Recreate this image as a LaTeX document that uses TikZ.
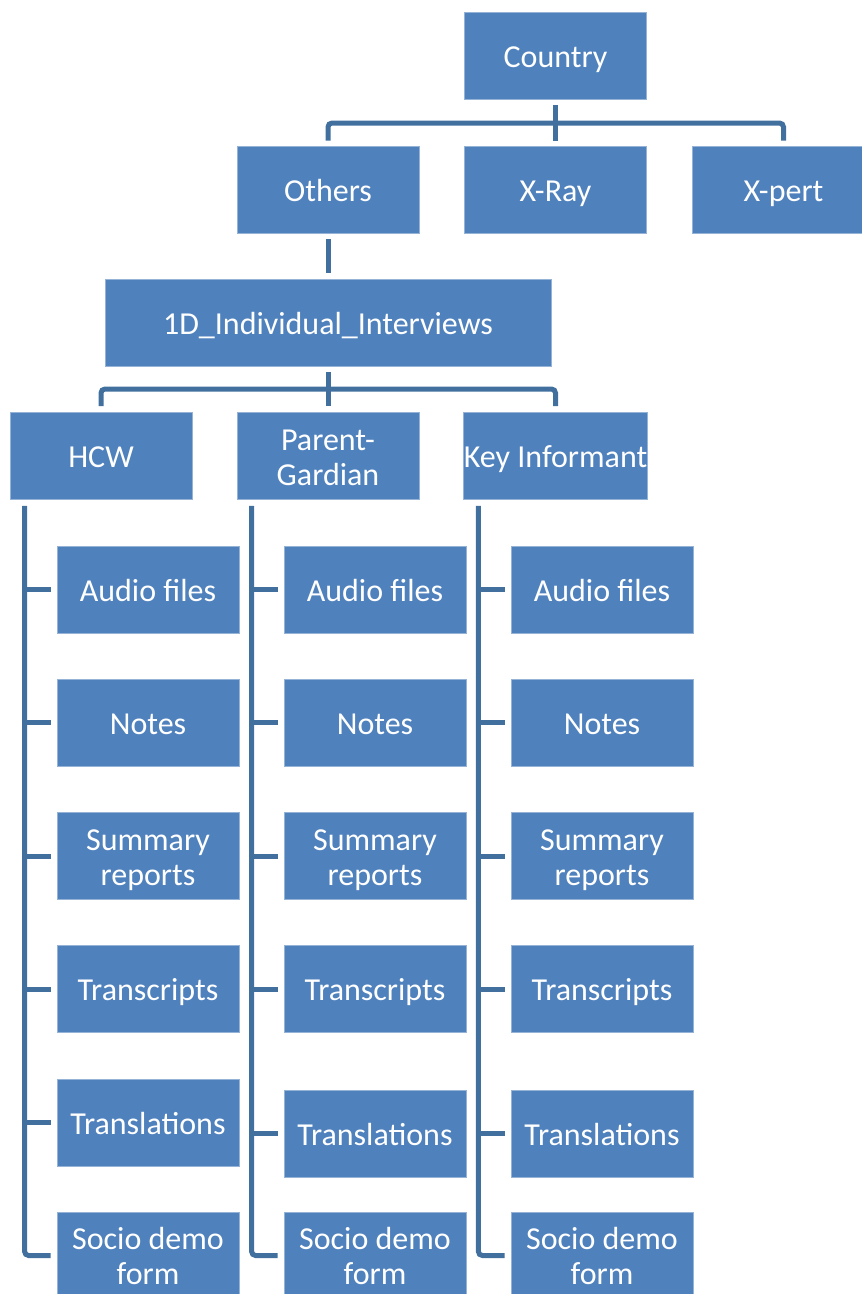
\documentclass[tikz,border=0pt]{standalone}
\usepackage{fontspec}
\setmainfont{Carlito}
\usepackage{tikz}
\usetikzlibrary{positioning}
\definecolor{boxblue}{HTML}{4F81BD}
\definecolor{lineblue}{HTML}{41709F}
\newcommand{\boxstrut}{\rule[-9pt]{0pt}{41pt}}

\begin{document}
\begin{tikzpicture}[x=1pt, y=1pt,
	box/.style={font=\fontsize{32}{35}\selectfont, text=white, fill=boxblue, draw=boxblue!60!white, line width=0.8pt, minimum width=182, minimum height=87, inner sep=0, align=center, execute at begin node={\boxstrut}, execute at end node={\boxstrut}},
	twoline/.style={execute at begin node={\rule{0pt}{67pt}}},
	conn/.style={draw=lineblue, line width=5pt}
]
\useasboundingbox (0,0) rectangle (862,-1294);

\node[box] (country) at (555.5,-56) {Country};
\node[box] (others) at (328,-189.5) {Others};
\node[box] (xray) at (555.5,-189.5) {X-Ray};
\node[box] (xpert) at (783.5,-189.5) {X-pert};
\node[box, minimum width=446] (ind) at (328,-322.5) {1D\_Individual\_Interviews};

\node[box] (hcw) at (101,-456) {HCW};
\node[box, twoline] (parent) at (328,-456) {Parent-\\Gardian};
\node[box] (key) at (555.5,-456) {Key Informant};

% HCW
\node[box] (h1) at (148,-589.5) {Audio files};
\node[box] (h2) at (148,-722.5) {Notes};
\node[box, twoline] (h3) at (148,-856) {Summary\\reports};
\node[box] (h4) at (148,-989) {Transcripts};
\node[box] (h5) at (148,-1122.5) {Translations};
\node[box, twoline] (h6) at (148,-1255.5) {Socio demo\\form};

% Parent-Gardian
\node[box] (p1) at (375,-589.5) {Audio files};
\node[box] (p2) at (375,-722.5) {Notes};
\node[box, twoline] (p3) at (375,-856) {Summary\\reports};
\node[box] (p4) at (375,-989) {Transcripts};
\node[box] (p5) at (375,-1133.5) {Translations};
\node[box, twoline] (p6) at (375,-1255.5) {Socio demo\\form};

% Key Informant
\node[box] (k1) at (602,-589.5) {Audio files};
\node[box] (k2) at (602,-722.5) {Notes};
\node[box, twoline] (k3) at (602,-856) {Summary\\reports};
\node[box] (k4) at (602,-989) {Transcripts};
\node[box] (k5) at (602,-1133.5) {Translations};
\node[box, twoline] (k6) at (602,-1255.5) {Socio demo\\form};

\coordinate (bus1) at (555.5,-123);
\draw[conn] ([yshift=-5]country.south) -- ([yshift=5]xray.north);
\draw[conn, rounded corners=4] ([yshift=5]others.north) |- (bus1) -| ([yshift=5]xpert.north);

\draw[conn] ([yshift=-6]others.south) -- ([yshift=6]ind.north);

\coordinate (bus2) at (328,-389);
\draw[conn] ([yshift=-6]ind.south) -- ([yshift=6]parent.north);
\draw[conn, rounded corners=4] ([yshift=6]hcw.north) |- (bus2) -| ([yshift=6]key.north);

\coordinate (hl) at ([xshift=15,yshift=-6]hcw.south west);
\coordinate (pl) at ([xshift=15,yshift=-6]parent.south west);
\coordinate (kl) at ([xshift=15,yshift=-6]key.south west);

\draw[conn, rounded corners=4] (hl) |- ([xshift=-6]h6.west);
\draw[conn] (hl |- h1) -- ([xshift=-6]h1.west);
\draw[conn] (hl |- h2) -- ([xshift=-6]h2.west);
\draw[conn] (hl |- h3) -- ([xshift=-6]h3.west);
\draw[conn] (hl |- h4) -- ([xshift=-6]h4.west);
\draw[conn] (hl |- h5) -- ([xshift=-6]h5.west);

\draw[conn, rounded corners=4] (pl) |- ([xshift=-6]p6.west);
\draw[conn] (pl |- p1) -- ([xshift=-6]p1.west);
\draw[conn] (pl |- p2) -- ([xshift=-6]p2.west);
\draw[conn] (pl |- p3) -- ([xshift=-6]p3.west);
\draw[conn] (pl |- p4) -- ([xshift=-6]p4.west);
\draw[conn] (pl |- p5) -- ([xshift=-6]p5.west);

\draw[conn, rounded corners=4] (kl) |- ([xshift=-6]k6.west);
\draw[conn] (kl |- k1) -- ([xshift=-6]k1.west);
\draw[conn] (kl |- k2) -- ([xshift=-6]k2.west);
\draw[conn] (kl |- k3) -- ([xshift=-6]k3.west);
\draw[conn] (kl |- k4) -- ([xshift=-6]k4.west);
\draw[conn] (kl |- k5) -- ([xshift=-6]k5.west);
\end{tikzpicture}
\end{document}
